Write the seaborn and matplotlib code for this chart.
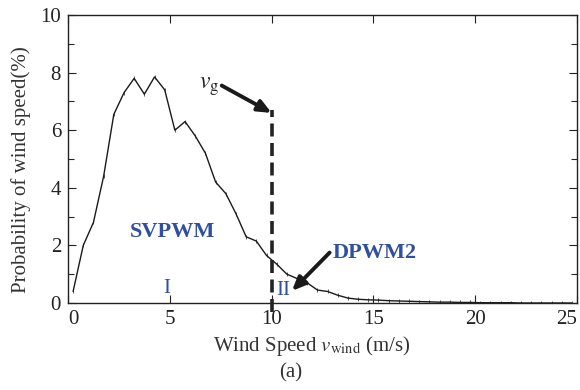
import matplotlib
matplotlib.use("Agg")
import matplotlib.pyplot as plt
import seaborn as sns
import pandas as pd
import numpy as np

# ---- data ----
wind_speed = [0.25, 0.75, 1.25, 1.75, 2.25, 2.75, 3.25, 3.75, 4.25, 4.75,
              5.25, 5.75, 6.25, 6.75, 7.25, 7.75, 8.25, 8.75, 9.25, 9.75,
              10.25, 10.75, 11.25, 11.75, 12.25, 12.75, 13.25, 13.75, 14.25, 14.75,
              15.25, 15.75, 16.25, 16.75, 17.25, 17.75, 18.25, 18.75, 19.25, 19.75,
              20.25, 20.75, 21.25, 21.75, 22.25, 22.75, 23.25, 23.75, 24.25, 24.75]
probability = [0.40, 2.00, 2.80, 4.40, 6.55, 7.30, 7.80, 7.25, 7.85, 7.40,
               6.00, 6.30, 5.80, 5.20, 4.20, 3.80, 3.10, 2.30, 2.15, 1.65,
               1.35, 1.00, 0.85, 0.70, 0.45, 0.40, 0.27, 0.17, 0.13, 0.11,
               0.10, 0.08, 0.07, 0.06, 0.05, 0.04, 0.03, 0.03, 0.02, 0.02,
               0.01, 0.01, 0.01, 0.01, 0.00, 0.00, 0.00, 0.00, 0.00, 0.00]
x_ticks = [0, 5, 10, 15, 20, 25]
y_ticks = [0, 2, 4, 6, 8, 10]
v_g = 10
v_g_top = 6.7

df = pd.DataFrame({"wind": wind_speed, "prob": probability})

sns.set_style("ticks")
plt.rcParams["font.family"] = ["Liberation Serif", "DejaVu Serif"]
plt.rcParams["mathtext.fontset"] = "stix"
plt.rcParams["xtick.direction"] = "in"
plt.rcParams["ytick.direction"] = "in"

fig = plt.figure(figsize=(5.8, 3.9), dpi=100)
ax = fig.add_axes([68/580, 1-303/390, (577-68)/580, (303-15)/390])

sns.lineplot(data=df, x="wind", y="prob", ax=ax, color="#1a1a1a", linewidth=1.0,
             marker="|", markersize=2.5, markeredgewidth=0.5, markeredgecolor="#1a1a1a")

# vg dashed line
ax.plot([v_g, v_g], [-0.3, v_g_top], color="#222222", linewidth=2.6,
        linestyle=(0, (3.6, 1.8)), clip_on=False, zorder=4)

ax.set_xlim(0, 25)
ax.set_ylim(0, 10)
ax.set_xticks(x_ticks)
ax.set_yticks(y_ticks)
ax.set_yticks(np.arange(1, 10, 2), minor=True)
ax.tick_params(axis="both", which="major", labelsize=15, length=6, width=0.8,
               top=True, right=True, colors="#222222", pad=5)
ax.tick_params(axis="both", which="minor", length=4, width=0.8, top=True, right=True)
xlabels = ax.get_xticklabels()
xlabels[0].set_horizontalalignment("left")
xlabels[-1].set_horizontalalignment("right")
for s in ax.spines.values():
    s.set_visible(True)
    s.set_linewidth(1.0)
    s.set_color("#222222")

ax.set_xlabel(r"Wind Speed $v_{\rm wind}$ (m/s)", fontsize=15, color="#333333")
ax.xaxis.set_label_coords((312 - 68) / 509, -(346 - 303) / 288)
ax.xaxis.label.set_verticalalignment("center")
ax.set_ylabel("Probability of wind speed(%)", fontsize=15, color="#333333")
ax.yaxis.set_label_coords(-(68 - 21) / 509, (303 - 170) / 288)
ax.yaxis.label.set_verticalalignment("center")
fig.text(291/580, 1 - 373/390, "(a)",
         ha="center", va="center", fontsize=15, color="#333333")

blue = "#2f4fa0"
ax.text(5.15, 2.45, "SVPWM", color=blue, fontsize=16, fontweight="bold",
        ha="center", va="center")
ax.text(4.85, 0.5, "I", color=blue, fontsize=15, ha="center", va="center")
ax.text(10.55, 0.45, "II", color=blue, fontsize=15, ha="center", va="center")
ax.text(15.05, 1.75, "DPWM2", color=blue, fontsize=16, fontweight="bold",
        ha="center", va="center")
ax.annotate("", xy=(11.0, 0.42), xytext=(12.85, 1.75),
            arrowprops=dict(arrowstyle="-|>,head_length=0.8,head_width=0.35",
                            color="#1a1a1a", lw=2.8, shrinkA=0, shrinkB=0))
ax.text(6.95, 7.5, r"$v_{\rm g}$", fontsize=17, color="#222222",
        ha="center", va="center")
ax.annotate("", xy=(10.0, 6.6), xytext=(7.55, 7.55),
            arrowprops=dict(arrowstyle="-|>,head_length=0.8,head_width=0.35",
                            color="#1a1a1a", lw=2.8, shrinkA=0, shrinkB=0))

fig.savefig("out.png", dpi=100)
